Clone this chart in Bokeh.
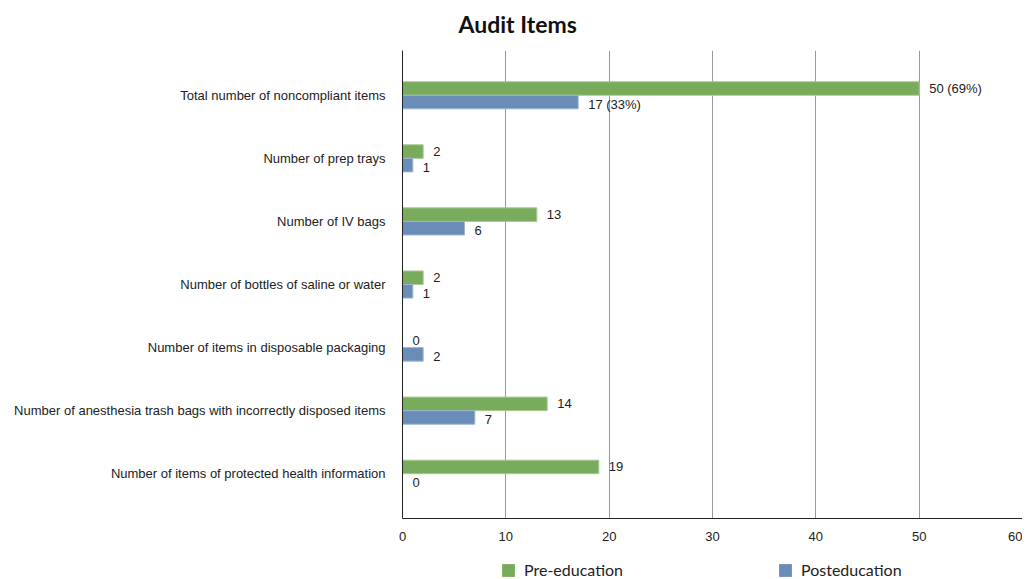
from bokeh.plotting import figure
from bokeh.layouts import column
from bokeh.models import ColumnDataSource, FactorRange, Legend, LegendItem, Title
from bokeh.transform import dodge
from bokeh.core.properties import value
from bokeh.embed import file_html
from bokeh.resources import INLINE

categories = [
    "Total number of noncompliant items",
    "Number of prep trays",
    "Number of IV bags",
    "Number of bottles of saline or water",
    "Number of items in disposable packaging",
    "Number of anesthesia trash bags with incorrectly disposed items",
    "Number of items of protected health information",
]
pre_values = [50, 2, 13, 2, 0, 14, 19]
post_values = [17, 1, 6, 1, 2, 7, 0]
pre_labels = ["50 (69%)", "2", "13", "2", "0", "14", "19"]
post_labels = ["17 (33%)", "1", "6", "1", "2", "7", "0"]
x_ticks = [0, 10, 20, 30, 40, 50, 60]
series_names = ["Pre-education", "Posteducation"]

GREEN = "#79ab5c"
BLUE = "#6a8db8"
LABEL_FONT = "Liberation Sans"

source = ColumnDataSource(dict(cat=categories, pre=pre_values, post=post_values,
                               pre_lab=pre_labels, post_lab=post_labels))

y_range = FactorRange(factors=list(reversed(categories)), range_padding=0.21,
                      range_padding_units="absolute")

p = figure(width=1022, height=546, y_range=y_range, x_range=(0, 60),
           output_backend="svg", toolbar_location=None,
           min_border_left=402, min_border_right=0, min_border_top=50,
           min_border_bottom=28)

p.title.text = "Audit Items"
p.title.align = "left"
p.title.offset = 56
p.title.standoff = 0
p.title.text_font = "Lato"
p.title.text_font_size = "23px"
p.title.text_font_style = "bold"
p.title.text_color = "#111111"

# small spacer between the title and the plot area
p.add_layout(Title(text=" ", text_font_size="1px", standoff=10), "above")

bh = 0.215
p.hbar(y=dodge("cat", bh / 2, range=y_range), right="pre", left=0, height=bh,
       source=source, fill_color=GREEN, line_color="#a8cc90", line_width=1)
p.hbar(y=dodge("cat", -bh / 2, range=y_range), right="post", left=0, height=bh,
       source=source, fill_color=BLUE, line_color="#9db5d2", line_width=1)

p.text(x="pre", y=dodge("cat", bh / 2, range=y_range), text="pre_lab", source=source,
       x_offset=10, text_baseline="middle", text_align="left",
       text_font=value(LABEL_FONT), text_font_size="13px", text_color="#222222")
p.text(x="post", y=dodge("cat", -bh / 2, range=y_range), text="post_lab", source=source,
       x_offset=10, y_offset=2, text_baseline="middle", text_align="left",
       text_font=value(LABEL_FONT), text_font_size="13px", text_color="#222222")

p.xaxis.ticker = x_ticks
p.xaxis.major_tick_line_color = None
p.xaxis.minor_tick_line_color = None
p.xaxis.axis_line_color = "#222222"
p.xaxis.major_label_text_font = LABEL_FONT
p.xaxis.major_label_text_font_size = "13px"
p.xaxis.major_label_text_color = "#222222"
p.xaxis.major_label_standoff = 7

p.yaxis.major_tick_line_color = None
p.yaxis.minor_tick_line_color = None
p.yaxis.axis_line_color = "#222222"
p.yaxis.major_label_text_font = LABEL_FONT
p.yaxis.major_label_text_font_size = "13px"
p.yaxis.major_label_text_color = "#222222"
p.yaxis.major_label_standoff = 11

p.xgrid.grid_line_color = "#999999"
p.ygrid.grid_line_color = None
p.outline_line_color = None

# legend strip below the chart (hidden proxy bars drawn from the same data)
lg = figure(width=1022, height=33, x_range=(0, 60),
            y_range=FactorRange(factors=list(reversed(categories))),
            output_backend="svg", toolbar_location=None,
            min_border_left=402, min_border_right=0,
            min_border_top=0, min_border_bottom=0)
lg.axis.visible = False
lg.grid.visible = False
lg.outline_line_color = None
g_pre = lg.hbar(y="cat", right="pre", left=0, height=0.5, source=source,
                fill_color=GREEN, line_color=None, visible=False)
g_post = lg.hbar(y="cat", right="post", left=0, height=0.5, source=source,
                 fill_color=BLUE, line_color=None, visible=False)
legend = Legend(items=[LegendItem(label=series_names[0], renderers=[g_pre]),
                       LegendItem(label=series_names[1], renderers=[g_post])],
                orientation="horizontal", location=(98, 0), spacing=154,
                glyph_width=16, glyph_height=16, label_standoff=8,
                border_line_color=None, background_fill_alpha=0,
                inactive_fill_alpha=0,
                label_text_font="Lato", label_text_font_size="16px",
                label_text_color="#222222", margin=0, padding=0)
lg.add_layout(legend)

layout = column(p, lg, spacing=0)
open("out.html", "w").write(file_html(layout, INLINE))
